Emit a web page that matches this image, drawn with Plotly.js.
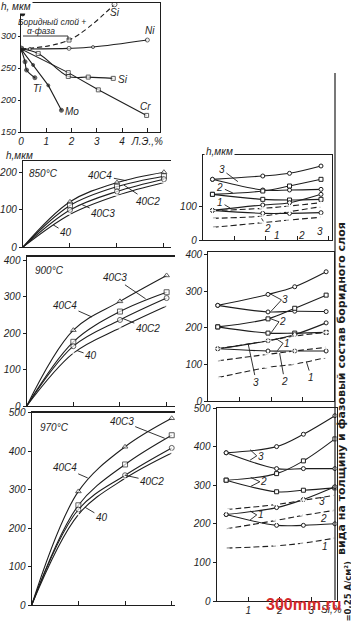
<!DOCTYPE html>
<html><head><meta charset="utf-8">
<script src="https://cdn.plot.ly/plotly-3.0.1.min.js"></script>
<style>html,body{margin:0;padding:0;background:#fff}#chart{width:351px;height:623px}</style>
</head><body><div id="chart"></div>
<script>
const W = 351, H = 623;
const INK = '#1e1e1e';
const FONT = 'Liberation Sans Narrow, Liberation Sans, Arial, sans-serif';

// ---------- Panel A: h vs alloying element content ----------
const aTickVals = [0, 1, 2, 3, 4, 5];
const aTickText = ['0', '1', '2', '3', '4', 'Л.Э.,%'];
const aSiDashX = [0, 1.9, 3.7],              aSiDashY = [280, 294, 350];
const aNiX = [0, 0.35, 1.9, 2.85, 5.0],      aNiY = [280, 280, 281, 283, 294];
const aSiX = [0, 0.68, 1.87, 2.66, 3.65],    aSiY = [280, 273, 237, 236, 234];
const aCrX = [0, 1.87, 3.06, 4.97],          aCrY = [280, 243, 216, 176];
const aMoX = [0, 0.48, 1.08, 1.6],           aMoY = [280, 255, 223, 184];
const aTiX = [0, 0.16, 0.22, 0.55],          aTiY = [280, 260, 247, 235];
const aDotX = [0.07],                        aDotY = [335];

// ---------- Left column: h vs time ----------
const timeX = [0, 1, 2, 3];
const h850_40C4 = [0, 122, 174, 202];
const h850_40C2 = [0, 112, 163, 191];
const h850_40C3 = [0, 100, 150, 183];
const h850_40   = [0, 88, 139, 174];
const h900_40C4 = [0, 208, 287, 358];
const h900_40C3 = [0, 176, 259, 312];
const h900_40C2 = [0, 164, 236, 296];
const h900_40   = [0, 145, 214, 274];
const h970_40C4 = [0, 295, 411, 485];
const h970_40C3 = [0, 259, 365, 441];
const h970_40C2 = [0, 248, 337, 408];
const h970_40   = [0, 235, 329, 395];

// ---------- Right column: h vs Si content ----------
const siX = [0.3, 1.9, 2.75, 3.75];
const r850_3up = [182, 192, 200, 222], r850_3dn = [182, 150, 150, 152];
const r850_2up = [137, 147, 162, 182], r850_2dn = [137, 122, 120, 122];
const r850_1up = [89, 105, 112, 137],  r850_1dn = [89, 80, 80, 82];
const r850_d3  = [88, 95, 102, 112],   r850_d2  = [65, 72, 85, 100], r850_d1 = [38, 52, 60, 68];
const r900_3up = [262, 292, 313, 354], r900_3dn = [262, 244, 246, 245];
const r900_2up = [203, 225, 254, 290], r900_2dn = [203, 186, 186, 188];
const r900_1up = [143, 165, 182, 214], r900_1dn = [143, 137, 137, 137];
const r900_d3  = [143, 165, 178, 188], r900_d2  = [110, 128, 137, 147], r900_d1 = [64, 92, 101, 119];
const r970_3up = [384, 400, 432, 480], r970_3dn = [384, 343, 343, 343];
const r970_2up = [313, 330, 363, 420], r970_2dn = [313, 283, 287, 293];
const r970_1up = [224, 242, 263, 296], r970_1dn = [224, 196, 196, 200];
const r970_d3  = [237, 250, 261, 274], r970_d2  = [187, 209, 222, 235], r970_d1 = [137, 143, 150, 163];

// ---------- helpers ----------
function sfx(n) { return n === 1 ? '' : String(n); }
function tr(n, xs, ys, o = {}) {
  return {
    type: 'scatter', x: xs, y: ys, xaxis: 'x' + sfx(n), yaxis: 'y' + sfx(n),
    mode: o.mode || 'lines+markers', hoverinfo: 'skip', showlegend: false,
    line: { color: INK, width: o.w || 1.1, shape: o.shape || 'spline', dash: o.dash || 'solid' },
    marker: { symbol: o.sym || 'circle', size: o.size !== undefined ? o.size : 4,
              color: o.fill || '#fff', line: { color: INK, width: 1 } }
  };
}
const traces = [];
// Panel A
traces.push(tr(1, aSiDashX, aSiDashY, { dash: '5px,3px', sym: ['circle', 'square', 'circle'], size: [0, 4, 5] }));
traces.push(tr(1, aNiX, aNiY, { size: [0, 3, 4, 3, 4] }));
traces.push(tr(1, aSiX, aSiY, { sym: 'square', size: [0, 4, 4, 4, 4] }));
traces.push(tr(1, aCrX, aCrY, { shape: 'linear', sym: 'square', size: [0, 4, 4, 4] }));
traces.push(tr(1, aMoX, aMoY, { shape: 'linear', fill: INK, size: [6, 3, 3, 4] }));
traces.push(tr(1, aTiX, aTiY, { fill: INK, size: [0, 4, 4, 4] }));
traces.push(tr(1, aDotX, aDotY, { mode: 'markers', fill: INK, size: 4 }));
// Left panels
const lsz = [0, 5, 5, 5];
[[2, [h850_40C4, h850_40C2, h850_40C3, h850_40]],
 [3, [h900_40C4, h900_40C3, h900_40C2, h900_40]],
 [4, [h970_40C4, h970_40C3, h970_40C2, h970_40]]].forEach(([n, arr]) => {
  const syms = ['triangle-up', 'square', 'circle', 'cross-thin-open'];
  arr.forEach((ys, i) => traces.push(tr(n, timeX, ys, { sym: syms[i], size: i === 3 ? [0, 4, 4, 4] : lsz })));
});
// Right panels
function rset(n, s) {
  traces.push(tr(n, siX, s[0], { size: 4 }));
  traces.push(tr(n, siX, s[1], { size: 4 }));
  traces.push(tr(n, siX, s[2], { sym: 'square', size: 4 }));
  traces.push(tr(n, siX, s[3], { sym: 'square', size: 4 }));
  traces.push(tr(n, siX, s[4], { size: 4 }));
  traces.push(tr(n, siX, s[5], { size: 4 }));
  traces.push(tr(n, siX, s[6], { dash: '6px,3px', sym: 'cross-thin-open', size: 5 }));
  traces.push(tr(n, siX, s[7], { dash: '6px,3px', sym: 'cross-thin-open', size: 5 }));
  traces.push(tr(n, siX, s[8], { dash: '6px,3px', sym: 'cross-thin-open', size: 5 }));
}
rset(5, [r850_3up, r850_3dn, r850_2up, r850_2dn, r850_1up, r850_1dn, r850_d3, r850_d2, r850_d1]);
rset(6, [r900_3up, r900_3dn, r900_2up, r900_2dn, r900_1up, r900_1dn, r900_d3, r900_d2, r900_d1]);
rset(7, [r970_3up, r970_3dn, r970_2up, r970_2dn, r970_1up, r970_1dn, r970_d3, r970_d2, r970_d1]);

// ---------- layout ----------
const tf = { family: FONT, size: 10, color: INK, style: 'italic' };
const layout = {
  width: W, height: H, margin: { l: 0, r: 0, t: 0, b: 0 },
  paper_bgcolor: '#fff', plot_bgcolor: '#fff', showlegend: false,
  annotations: [], shapes: []
};
function setAxes(n, px0, px1, pyTop, pyBot, xr, yr, xo, yo) {
  const s = sfx(n);
  layout['xaxis' + s] = Object.assign({
    domain: [px0 / W, px1 / W], range: xr, anchor: 'y' + s,
    showline: true, linecolor: INK, linewidth: 1.2, mirror: true, ticks: 'inside', ticklen: 4,
    tickcolor: INK, tickwidth: 1, showgrid: false, zeroline: false, tickfont: tf, fixedrange: true
  }, xo);
  layout['yaxis' + s] = Object.assign({
    domain: [1 - pyBot / H, 1 - pyTop / H], range: yr, anchor: 'x' + s,
    showline: true, linecolor: INK, linewidth: 1.2, mirror: false, ticks: 'outside', ticklen: 3,
    tickcolor: INK, tickwidth: 1, showgrid: false, zeroline: false, tickfont: tf, fixedrange: true
  }, yo);
}
const tfSmall = Object.assign({}, tf, { size: 9 });
setAxes(1, 21, 160, 3, 132, [0, 5.5], [150, 352],
  { tickvals: aTickVals, ticktext: aTickText },
  { tickvals: [150, 200, 250, 300], mirror: true, ticklen: 2, tickfont: tfSmall });
setAxes(2, 23, 171, 160.7, 247, [0, 3.15], [0, 233],
  { tickvals: [1, 2, 3], showticklabels: false }, { tickvals: [0, 100, 200] });
setAxes(3, 26.7, 175, 256.5, 406, [0, 3.18], [0, 410],
  { tickvals: [1, 2, 3], showticklabels: false }, { tickvals: [0, 100, 200, 300, 400] });
setAxes(4, 31.7, 175, 412.5, 605, [0, 3.07], [0, 500],
  { tickvals: [1, 2, 3], showticklabels: false }, { tickvals: [0, 100, 200, 300, 400, 500] });
setAxes(5, 203, 332, 155, 240, [0, 4.1], [0, 255],
  { tickvals: [1, 2, 3, 4], showticklabels: false }, { tickvals: [0, 100], mirror: true });
setAxes(6, 208.3, 334, 251.7, 401, [0, 4.0], [0, 409],
  { tickvals: [1, 2, 3, 4], showticklabels: false }, { tickvals: [0, 100, 200, 300, 400], mirror: true });
setAxes(7, 216.7, 336.5, 408, 601, [0, 3.8], [0, 500],
  { tickvals: [1, 2, 3], ticktext: ['1', '2', '3'] }, { tickvals: [0, 100, 200, 300, 400, 500], mirror: true });

function txt(px, py, text, o = {}) {
  layout.annotations.push(Object.assign({
    xref: 'paper', yref: 'paper', x: px / W, y: 1 - py / H, text: text, showarrow: false,
    xanchor: 'center', yanchor: 'middle', font: Object.assign({}, tf, o.font || {})
  }, o.extra || {}));
}
function lead(n, x, y, text, ax, ay) {
  layout.annotations.push({
    xref: 'x' + sfx(n), yref: 'y' + sfx(n), x: x, y: y, text: text, showarrow: true,
    arrowhead: 0, arrowwidth: 0.9, arrowcolor: INK, ax: ax, ay: ay, standoff: 0, font: tf
  });
}
function dtxt(n, x, y, text) {
  layout.annotations.push({ xref: 'x' + sfx(n), yref: 'y' + sfx(n), x: x, y: y, text: text,
    showarrow: false, font: tf });
}
function seg(n, x0, y0, x1, y1) {
  layout.shapes.push({ type: 'line', xref: 'x' + sfx(n), yref: 'y' + sfx(n), x0, y0, x1, y1,
    line: { color: INK, width: 0.9 } });
}
function pseg(x0, y0, x1, y1, w) {
  layout.shapes.push({ type: 'line', xref: 'paper', yref: 'paper', x0: x0 / W, y0: 1 - y0 / H,
    x1: x1 / W, y1: 1 - y1 / H, line: { color: INK, width: w || 0.9 } });
}

// Panel A labels
txt(16, 6, 'h, мкм', { extra: { bgcolor: '#fff' } });
txt(52, 22, 'Боридный слой +', { font: { size: 8.5 } });
txt(41, 31, 'α-фаза', { font: { size: 8.5 } });
pseg(23, 36, 68, 36); pseg(68, 36, 68, 40);
txt(115, 13, 'Si'); txt(150, 31, 'Ni'); txt(123, 80, 'Si');
txt(145, 106, 'Cr'); txt(72, 111, 'Mo'); txt(37, 88, 'Ti');

// Left panels labels
txt(19, 155, 'h,мкм');
txt(43, 174, '850°C');
lead(2, 2.2, 179, '40C4', -26, -5);
lead(2, 2.15, 167, '40C2', 24, 16);
lead(2, 1.26, 114, '40C3', 21, 9);
lead(2, 0.64, 60, '40', 13, 8);
txt(49, 270, '900°C');
lead(3, 1.4, 244, '40C4', -27, -12);
lead(3, 2.55, 294, '40C3', -31, -21);
lead(3, 2.06, 240, '40C2', 25, 10);
lead(3, 1.08, 152, '40', 14, 5);
txt(54, 427, '970°C');
lead(4, 1.2, 330, '40C4', -23, -10);
lead(4, 2.85, 433, '40C3', -43, -17);
lead(4, 2.0, 337, '40C2', 27, 6);
lead(4, 1.14, 254, '40', 17, 10);

// Right panels labels
txt(220, 152, 'h,мкм', { extra: { bgcolor: '#fff' } });
lead(5, 1.11, 175, '3', -16, -12);
lead(5, 0.95, 141, '2', -13, -6);
lead(5, 0.86, 96, '1', -10, -6);
lead(5, 1.86, 65, '2', 6, 10);
dtxt(5, 2.34, 15, '1'); dtxt(5, 3.13, 15, '2'); dtxt(5, 3.71, 25, '3');

dtxt(6, 2.45, 277, '3'); seg(6, 2.33, 277, 1.96, 294); seg(6, 2.33, 277, 2.0, 246);
dtxt(6, 2.36, 217, '2'); seg(6, 2.25, 217, 1.96, 226); seg(6, 2.25, 217, 2.0, 187);
dtxt(6, 2.5, 158, '1');  seg(6, 2.38, 158, 2.17, 170); seg(6, 2.38, 158, 2.2, 138);
lead(6, 1.27, 156, '3', 8, 38);
lead(6, 2.27, 131, '2', 5, 28);
lead(6, 3.12, 108, '1', 5, 16);

dtxt(7, 1.4, 375, '3'); seg(7, 1.27, 376, 1.06, 392); seg(7, 1.27, 376, 1.06, 365);
dtxt(7, 1.5, 309, '2'); seg(7, 1.37, 309, 1.08, 320); seg(7, 1.37, 309, 1.08, 297);
dtxt(7, 1.4, 223, '1'); seg(7, 1.27, 223, 1.06, 233); seg(7, 1.27, 223, 1.06, 210);
dtxt(7, 3.33, 257, '3'); dtxt(7, 3.38, 214, '2'); dtxt(7, 3.44, 141, '1');
txt(331, 609, 'Si,%');

// page edge line and caption
pseg(335, 73, 335, 600, 1.2);
txt(341, 389, '<b>вида на толщину и фазовый состав боридного слоя</b>',
  { font: { family: 'DejaVu Sans', size: 11, style: 'normal' }, extra: { textangle: -90 } });
txt(347.5, 592, '<b>=0,25 А/см²)</b>',
  { font: { family: 'DejaVu Sans', size: 8.5, style: 'normal' }, extra: { textangle: -90 } });
// watermark
txt(304, 604, '<b>300mm.ru</b>', { font: { family: 'Liberation Sans', size: 16, color: '#d42a2a', style: 'normal' } });

Plotly.newPlot('chart', traces, layout, { staticPlot: true, displayModeBar: false });
</script></body></html>
